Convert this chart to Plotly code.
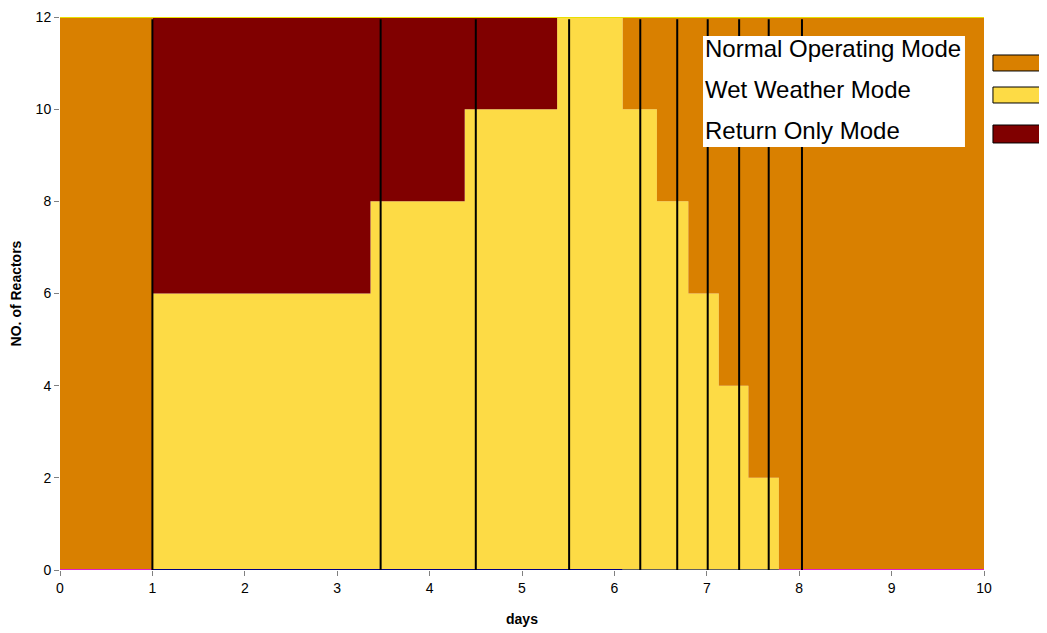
import plotly.graph_objects as go

# ---- data ----
days_breaks = [0, 1, 3.36, 4.38, 5.38, 6.09, 6.46, 6.80, 7.13, 7.45, 7.78, 10]
wet_weather = [0, 6, 8, 10, 12, 10, 8, 6, 4, 2, 0, 0]
return_only = [0, 6, 4, 2, 0, 0, 0, 0, 0, 0, 0, 0]
normal_mode = [12, 0, 0, 0, 0, 2, 4, 6, 8, 10, 12, 12]

event_days = [1.0, 3.47, 4.50, 5.51, 6.28, 6.68, 7.01, 7.35, 7.67, 8.03]

x_ticks = [0, 1, 2, 3, 4, 5, 6, 7, 8, 9, 10]
y_ticks = [0, 2, 4, 6, 8, 10, 12]

series_names = ["Normal Operating Mode", "Wet Weather Mode", "Return Only Mode"]
C_NORMAL = "#D98000"
C_WET = "#FDDB45"
C_RETURN = "#800000"

# baseline segments (as drawn in the original)
base_magenta_x = [0, 1, None, 7.78, 10]
base_magenta_y = [0, 0, None, 0, 0]
base_navy_x = [1, 6.09]
base_gray_x = [6.09, 7.78]

fig = go.Figure()

fig.add_trace(go.Scatter(x=days_breaks, y=wet_weather, stackgroup="s", line_shape="hv",
                         mode="none", fillcolor=C_WET, name=series_names[1], showlegend=False))
fig.add_trace(go.Scatter(x=days_breaks, y=return_only, stackgroup="s", line_shape="hv",
                         mode="none", fillcolor=C_RETURN, name=series_names[2], showlegend=False))
fig.add_trace(go.Scatter(x=days_breaks, y=normal_mode, stackgroup="s", line_shape="hv",
                         mode="none", fillcolor=C_NORMAL, name=series_names[0], showlegend=False))

# top border line
fig.add_trace(go.Scatter(x=[0, 10], y=[12, 12], mode="lines",
                         line=dict(color="#E8E000", width=2), showlegend=False, cliponaxis=False))
# bottom baseline lines
fig.add_trace(go.Scatter(x=base_magenta_x, y=base_magenta_y,
                         mode="lines", line=dict(color="#E020C8", width=2), showlegend=False, cliponaxis=False))
fig.add_trace(go.Scatter(x=base_navy_x, y=[0, 0], mode="lines",
                         line=dict(color="#000080", width=2), showlegend=False, cliponaxis=False))
fig.add_trace(go.Scatter(x=base_gray_x, y=[0, 0], mode="lines",
                         line=dict(color="#606060", width=2), showlegend=False, cliponaxis=False))

# vertical event lines
vx, vy = [], []
for d in event_days:
    vx += [d, d, None]
    vy += [0, 11.95, None]
fig.add_trace(go.Scatter(x=vx, y=vy, mode="lines", line=dict(color="black", width=2),
                         showlegend=False, cliponaxis=False))

# ---- custom legend (as in original) ----
fig.add_shape(type="rect", xref="paper", yref="paper", x0=0.6959, x1=0.9794, y0=0.7649, y1=0.9656,
              fillcolor="white", line=dict(width=0))
legend_y = [0.9439, 0.8680, 0.7939]
swatch_y = [(0.9024, 0.9313), (0.8445, 0.8734), (0.7722, 0.8047)]
swatch_col = [C_NORMAL, C_WET, C_RETURN]
for name, ty, (s0, s1), col in zip(series_names, legend_y, swatch_y, swatch_col):
    fig.add_annotation(text=name, xref="paper", yref="paper", x=0.6959, y=ty,
                       xanchor="left", yanchor="middle", showarrow=False,
                       font=dict(family="Liberation Sans, Arial", size=24, color="black"))
    fig.add_shape(type="rect", xref="paper", yref="paper", x0=1.0097, x1=1.0649, y0=s0, y1=s1,
                  fillcolor=col, line=dict(color="black", width=1))

fig.update_layout(
    width=1039, height=625,
    margin=dict(l=52, r=63, t=9, b=63, autoexpand=False),
    paper_bgcolor="white", plot_bgcolor="white",
    font=dict(family="Liberation Sans, Arial", size=14, color="black"),
    showlegend=False,
    xaxis=dict(range=[0, 10], tickvals=x_ticks, ticks="outside", ticklen=5, tickcolor="#808080",
               showgrid=False, zeroline=False, showline=False, automargin=False,
               title=dict(text="<b>days</b>", font=dict(size=14), standoff=19)),
    yaxis=dict(range=[0, 12], tickvals=y_ticks, ticks="outside", ticklen=5, tickcolor="#808080",
               showgrid=False, zeroline=False, showline=False, automargin=False,
               title=dict(text="<b>NO. of Reactors</b>", font=dict(size=14), standoff=12)),
)

fig.write_html("out.html")
